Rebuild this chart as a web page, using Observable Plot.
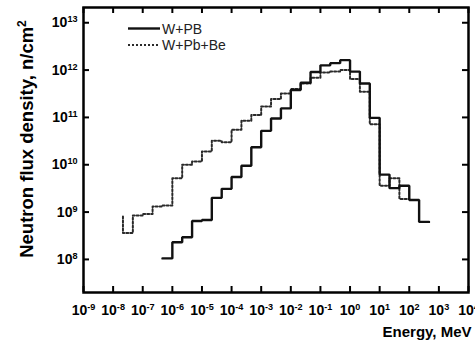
<!DOCTYPE html>
<html><head><meta charset="utf-8">
<script src="https://cdn.jsdelivr.net/npm/d3@7"></script>
<script src="https://cdn.jsdelivr.net/npm/@observablehq/plot@0.6"></script>
<style>
html,body{margin:0;padding:0;background:#fff;}
#chart{width:475px;height:340px;overflow:hidden;position:relative;}
#chart svg{overflow:visible;display:block;}
</style>
</head><body><div id="chart"></div>
<script>
// ---- Data ----
// W+PB (solid): bin edges in MeV and flux per bin (n/cm^2)
const wpbEdges = [4.64e-7, 1e-6, 2.15e-6, 4.64e-6, 1e-5, 2.15e-5, 4.64e-5, 1e-4, 2.15e-4, 4.64e-4,
  1e-3, 2.15e-3, 4.64e-3, 0.01, 0.0215, 0.0464, 0.1, 0.215, 0.464, 1, 2.15, 4.64, 10, 21.5, 46.4, 100, 215, 464];
const wpbFlux = [1.05e8, 2.3e8, 2.95e8, 6.5e8, 6.8e8, 2.0e9, 3.1e9, 5.5e9, 9.5e9, 2.35e10,
  5.2e10, 9.5e10, 1.55e11, 3.8e11, 5.4e11, 9.1e11, 1.26e12, 1.4e12, 1.62e12, 9.3e11, 5.2e11, 9.8e10,
  6.2e9, 3.2e9, 3.6e9, 1.8e9, 6.2e8];
// W+Pb+Be (dotted)
const wpbbeEdges = [2.15e-8, 4.64e-8, 1e-7, 2.15e-7, 4.64e-7, 1e-6, 2.15e-6, 4.64e-6, 1e-5, 2.15e-5, 4.64e-5,
  1e-4, 2.15e-4, 4.64e-4, 1e-3, 2.15e-3, 4.64e-3, 0.01, 0.0215, 0.0464, 0.1, 0.215, 0.464, 1, 2.15, 4.64, 10, 21.5, 46.4, 100];
const wpbbeFlux = [3.6e8, 8.5e8, 9.1e8, 1.32e9, 1.38e9, 5.2e9, 1.0e10, 1.17e10, 1.9e10, 3.2e10, 3.0e10,
  5.5e10, 8.5e10, 1.12e11, 1.7e11, 2.45e11, 3.2e11, 4.0e11, 5.2e11, 6.9e11, 8.9e11, 9.3e11, 1.0e12,
  6.5e11, 3.5e11, 7.2e10, 3.6e9, 5.2e9, 1.9e9];
const wpbbeStartFlux = 8.1e8; // top of the left vertical edge of the dotted histogram

const seriesNames = ["W+PB", "W+Pb+Be"];

// ---- Ticks ----
const xTicks = [1e-9, 1e-8, 1e-7, 1e-6, 1e-5, 1e-4, 1e-3, 1e-2, 1e-1, 1, 10, 100, 1e3, 1e4];
const xTickLabels = ["10^-9","10^-8","10^-7","10^-6","10^-5","10^-4","10^-3","10^-2","10^-1","10^0","10^1","10^2","10^3","10^4"];
const yTicks = [1e8, 1e9, 1e10, 1e11, 1e12, 1e13];
const yTickLabels = ["10^8","10^9","10^10","10^11","10^12","10^13"];

const xLabel = "Energy, MeV";
const yLabel = "Neutron flux density, n/cm^2";

// ---- Build step points ----
function stepPoints(edges, flux, series) {
  return edges.map((e, i) => ({energy: e, flux: flux[Math.min(i, flux.length - 1)], series}));
}
const wpbPts = stepPoints(wpbEdges, wpbFlux, seriesNames[0]);
const wpbbePts = [{energy: wpbbeEdges[0], flux: wpbbeStartFlux, series: seriesNames[1]}]
  .concat(stepPoints(wpbbeEdges, wpbbeFlux, seriesNames[1]));

const W = 475, H = 340, mL = 83, mR = 7, mT = 7, mB = 48;
const fw = W - mL - mR, fh = H - mT - mB;
const font = "'Liberation Sans', Arial, Helvetica, sans-serif";

const chart = Plot.plot({
  width: W, height: H,
  marginLeft: mL, marginRight: mR, marginTop: mT, marginBottom: mB,
  style: {fontFamily: font, background: "white", overflow: "visible", color: "#000"},
  x: {type: "log", domain: [1e-9, 1e4], label: null},
  y: {type: "log", domain: [2e7, 2.1e13], label: null},
  marks: [
    Plot.line(wpbbePts, {x: "energy", y: "flux", curve: "step-after", stroke: "#2a2a2a", strokeWidth: 2, strokeDasharray: "2,2"}),
    Plot.line(wpbPts, {x: "energy", y: "flux", curve: "step-after", stroke: "#111", strokeWidth: 2.4, strokeLinejoin: "miter"}),
    // inward ticks on all four sides
    Plot.tickX(xTicks, {x: d => d, insetTop: fh - 6, stroke: "#000", strokeWidth: 2}),
    Plot.tickX(xTicks, {x: d => d, insetBottom: fh - 6, stroke: "#000", strokeWidth: 2}),
    Plot.tickY(yTicks, {y: d => d, insetRight: fw - 6, stroke: "#000", strokeWidth: 2}),
    Plot.tickY(yTicks, {y: d => d, insetLeft: fw - 6, stroke: "#000", strokeWidth: 2}),
    Plot.axisX(xTicks, {tickSize: 0, tickPadding: 13, label: null,
      tickFormat: d => xTickLabels[xTicks.indexOf(d)]}),
    Plot.axisY(yTicks, {tickSize: 0, tickPadding: 6, label: null,
      tickFormat: d => yTickLabels[yTicks.indexOf(d)]}),
    Plot.frame({stroke: "#000", strokeWidth: 2.5}),
    Plot.text([yLabel], {frameAnchor: "left", rotate: -90, textAnchor: "middle", lineAnchor: "bottom",
      dx: -51, dy: -11, fontSize: 18.5, fontWeight: "bold", fill: "#000"}),
    Plot.text([xLabel], {frameAnchor: "bottom-right", textAnchor: "end", lineAnchor: "bottom",
      dx: 3, dy: 44.5, fontSize: 15, fontWeight: "bold", fill: "#000"})
  ]
});
document.getElementById("chart").appendChild(chart);

const svg = d3.select(chart);
// tick label font
svg.selectAll('g[aria-label="x-axis tick label"], g[aria-label="y-axis tick label"]')
  .attr("font-size", 14).attr("font-weight", "bold").style("font-size", "14px").style("font-weight", "bold");

// ---- Superscripts: turn "base^exp" texts into tspans ----
svg.selectAll("text").each(function() {
  const t = this.textContent;
  const k = t.indexOf("^");
  if (k < 0) return;
  const base = t.slice(0, k), exp = t.slice(k + 1);
  const sel = d3.select(this);
  sel.selectAll("*").remove();
  sel.text(null);
  sel.append("tspan").text(base);
  sel.append("tspan").attr("font-size", "0.65em").attr("dy", "-0.55em").text(exp);
});

// ---- Legend ----
const lg = svg.append("g").attr("font-family", font).attr("font-size", 14).attr("text-anchor", "start");
const legendItems = [
  {name: seriesNames[0], dash: null, width: 2.4, color: "#111"},
  {name: seriesNames[1], dash: "2,2", width: 2, color: "#2a2a2a"}
];
legendItems.forEach((it, i) => {
  const yy = 28.5 + i * 16.5;
  lg.append("line").attr("x1", 128).attr("x2", 160).attr("y1", yy).attr("y2", yy)
    .attr("stroke", it.color).attr("stroke-width", it.width).attr("stroke-dasharray", it.dash);
  lg.append("text").attr("x", 162).attr("y", yy + 5).attr("fill", "#222").attr("text-anchor", "start").text(it.name);
});
</script>
</body></html>
